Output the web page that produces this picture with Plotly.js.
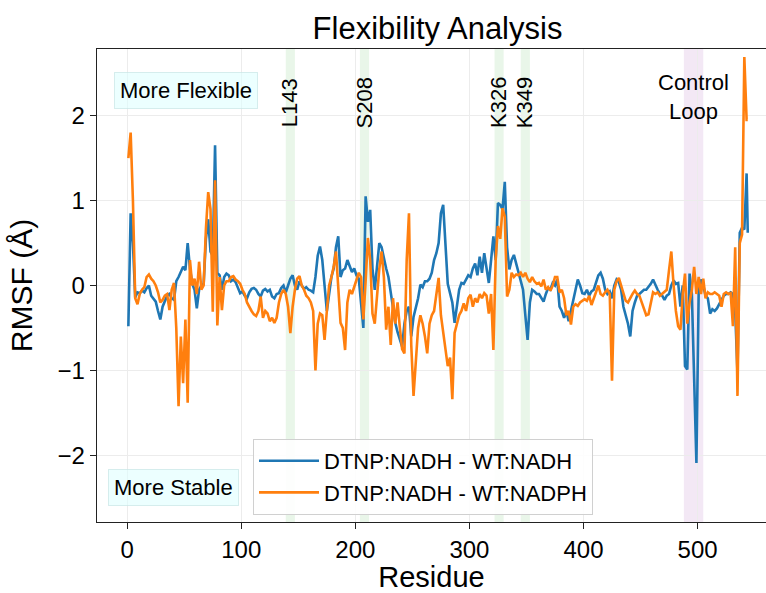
<!DOCTYPE html>
<html>
<head>
<meta charset="utf-8">
<script src="https://cdn.plot.ly/plotly-3.0.1.min.js"></script>
<style>
html,body{margin:0;padding:0;background:#fff;overflow:hidden;}
#chart{width:766px;height:593px;}
</style>
</head>
<body>
<div id="chart"></div>
<script>
// Residue numbers (x)
const residue = [
1,3,5,7,9,11,13,15,17,19,
21,23,25,27,29,31,33,35,37,39,
41,43,45,47,49,51,53,55,57,59,
61,63,65,67,69,71,73,75,77,79,
81,83,85,87,89,91,93,95,97,99,
101,103,105,107,109,111,113,115,117,119,
121,123,125,127,129,131,133,135,137,139,
141,143,145,147,149,151,153,155,157,159,
161,163,165,167,169,171,173,175,177,179,
181,183,185,187,189,191,193,195,197,199,
201,203,205,207,209,211,213,215,217,219,
221,223,225,227,229,231,233,235,237,239,
241,243,245,247,249,251,253,255,257,259,
261,263,265,267,269,271,273,275,277,279,
281,283,285,287,289,291,293,295,297,299,
301,303,305,307,309,311,313,315,317,319,
321,323,325,327,329,331,333,335,337,339,
341,343,345,347,349,351,353,355,357,359,
361,363,365,367,369,371,373,375,377,379,
381,383,385,387,389,391,393,395,397,399,
401,403,405,407,409,411,413,415,417,419,
421,423,425,427,429,431,433,435,437,439,
441,443,445,447,449,451,453,455,457,459,
461,463,465,467,469,471,473,475,477,479,
481,483,485,487,489,491,493,495,497,499,
501,503,505,507,509,511,513,515,517,519,
521,523,525,527,529,531,533,535,537,539,
541,543,544
];

// DTNP:NADH - WT:NADH (RMSF difference, Å)
const diffNADH = [
-0.48,0.85,0.5,-0.14,-0.08,-0.09,-0.06,-0.08,-0.03,0.0,
-0.12,-0.16,-0.19,-0.3,-0.4,-0.25,-0.18,-0.12,-0.1,-0.15,
-0.17,0.05,0.1,0.17,0.22,0.18,0.5,0.2,0.02,-0.05,
-0.27,-0.05,0.0,0.02,0.55,0.78,0.4,0.35,1.65,0.15,
0.12,-0.05,0.1,0.14,0.12,0.05,0.07,0.04,-0.02,-0.09,
-0.07,-0.12,-0.15,-0.08,-0.04,-0.03,-0.05,-0.1,-0.13,-0.06,
-0.04,-0.07,-0.05,-0.13,-0.15,-0.1,-0.09,-0.03,0.0,-0.08,
0.0,0.08,0.12,0.0,-0.05,0.05,0.0,-0.04,-0.02,-0.05,
-0.06,-0.08,0.1,0.35,0.46,0.3,0.0,-0.3,-0.1,0.1,
0.2,0.45,0.58,0.1,0.18,0.2,0.3,0.22,0.16,0.2,
0.12,0.08,-0.2,-0.5,1.05,0.75,0.89,0.2,-0.05,0.25,
0.5,0.45,0.3,0.2,0.1,-0.1,-0.25,-0.44,-0.55,-0.64,
-0.72,-0.45,-0.3,-0.25,-0.6,-0.37,-0.25,-0.15,0.01,-0.02,
0.05,0.05,0.08,0.15,0.3,0.38,0.5,0.85,0.95,0.4,
0.02,-0.09,-0.2,-0.44,-0.25,-0.05,0.03,0.02,0.07,0.12,
0.1,0.2,0.26,0.12,0.34,0.15,0.38,0.2,0.03,0.3,
0.58,0.3,0.97,0.95,0.9,1.22,0.45,0.19,0.3,0.36,
0.25,0.15,0.06,-0.05,-0.35,-0.64,-0.2,-0.05,-0.07,-0.1,
-0.1,-0.15,-0.19,-0.1,-0.03,-0.05,0.03,0.0,0.07,-0.25,
-0.3,-0.38,-0.3,-0.42,-0.3,-0.2,-0.05,0.07,0.0,-0.09,
-0.1,-0.05,-0.12,-0.07,-0.05,0.05,0.12,0.15,0.08,-0.05,
-0.1,-0.07,-0.15,0.0,0.07,0.04,-0.05,-0.25,-0.35,-0.45,
-0.6,-0.3,-0.2,-0.12,-0.1,-0.08,-0.05,-0.05,-0.02,0.02,
0.07,0.0,-0.05,-0.1,-0.12,-0.17,-0.12,-0.1,0.0,0.06,
0.02,0.03,-0.25,0.0,-0.95,-0.99,0.14,-0.1,-1.0,-2.09,
-0.05,0.07,0.0,-0.12,-0.15,-0.33,-0.28,-0.3,-0.27,-0.22,
-0.18,-0.12,-0.1,-0.1,-0.08,-0.1,-0.3,-1.03,0.62,0.68,
0.66,1.32,0.62
];

// DTNP:NADH - WT:NADPH (RMSF difference, Å)
const diffNADPH = [
1.5,1.8,1.0,-0.15,-0.22,-0.1,-0.05,-0.02,0.1,0.13,
0.08,0.05,0.0,-0.08,-0.2,-0.17,-0.12,-0.1,-0.29,-0.05,
0.03,-0.5,-1.42,-0.6,-1.15,-0.4,-1.38,0.3,0.0,0.08,
-0.1,0.28,-0.05,0.0,0.67,1.1,0.9,-0.31,1.24,-0.47,
0.1,-0.29,0.0,0.05,0.05,0.1,0.11,0.07,0.05,0.02,
-0.05,-0.1,-0.2,-0.26,-0.3,-0.34,-0.36,-0.3,-0.13,-0.38,
-0.3,-0.33,-0.42,-0.38,-0.44,-0.38,-0.2,-0.1,-0.05,-0.1,
-0.25,-0.56,-0.25,-0.05,0.08,0.11,0.0,-0.05,-0.12,-0.15,
-0.2,-0.3,-1.0,-0.45,-0.33,-0.35,-0.64,-0.3,0.0,0.1,
0.22,0.4,-0.05,-0.44,-0.5,-0.76,-0.2,-0.05,-0.1,-0.02,
0.08,0.15,0.1,-0.4,0.05,0.56,0.3,-0.33,-0.45,-0.1,
0.2,0.4,0.1,-0.52,-0.25,-0.7,-0.15,-0.45,-0.2,-0.5,
-0.75,-0.8,0.3,0.85,-0.7,-1.3,-0.85,-0.5,-0.35,-0.45,
-0.6,-0.8,-0.45,-0.35,-0.3,-0.1,0.09,-0.35,-0.55,-0.72,
-0.95,-0.85,-1.34,-0.56,-0.45,-0.35,-0.3,-0.21,-0.3,-0.15,
-0.11,-0.25,-0.15,-0.2,-0.1,-0.15,-0.09,-0.12,-0.33,-0.1,
-0.76,0.3,0.7,0.55,0.91,0.81,-0.13,-0.05,0.15,0.1,
0.13,0.12,0.15,0.1,0.15,0.08,0.04,0.1,0.05,0.02,
0.03,-0.01,0.07,-0.05,-0.02,-0.06,0.0,0.1,0.1,-0.08,
-0.05,-0.15,-0.35,-0.3,-0.46,-0.25,-0.22,-0.24,-0.2,-0.18,
-0.16,-0.18,-0.12,-0.23,-0.15,-0.07,0.0,-0.1,-0.12,-0.08,
-0.05,-0.1,-1.12,-0.05,0.05,0.09,0.0,-0.1,-0.18,-0.2,
-0.14,-0.1,-0.06,-0.1,-0.12,-0.2,-0.26,-0.35,-0.34,-0.2,
-0.08,-0.1,-0.08,-0.12,-0.1,-0.08,-0.05,0.18,0.4,0.0,
-0.3,-0.48,-0.52,-0.1,0.14,-0.45,-0.2,-0.05,0.22,-0.1,
0.1,-0.1,0.08,-0.15,-0.08,-0.1,-0.1,-0.08,-0.1,-0.12,
-0.25,-0.1,-0.08,-0.1,-0.09,-0.48,0.45,-1.3,0.5,0.6,
2.69,1.95,1.95
];

// Highlighted residues
const siteLabels = ["L143", "S208", "K326", "K349"];
const siteResidues = [143, 208, 326, 349];
const loopRange = [488, 505];
const loopLabel = "Control<br>Loop";
const seriesNames = ["DTNP:NADH - WT:NADH", "DTNP:NADH - WT:NADPH"];
const xTicks = [0, 100, 200, 300, 400, 500];
const yTicks = [-2, -1, 0, 1, 2];

const FONT = "Liberation Sans, Arial, Helvetica, sans-serif";

const traces = [
  {x: residue, y: diffNADH, type: "scatter", mode: "lines", name: seriesNames[0],
   line: {color: "#1f77b4", width: 2.6}},
  {x: residue, y: diffNADPH, type: "scatter", mode: "lines", name: seriesNames[1],
   line: {color: "#ff7f0e", width: 2.6}}
];

const shapes = siteResidues.map(r => ({
  type: "rect", xref: "x", yref: "paper", x0: r - 4, x1: r + 4, y0: 0, y1: 1,
  fillcolor: "rgba(120,200,120,0.16)", line: {width: 0}, layer: "below"
}));
shapes.push({
  type: "rect", xref: "x", yref: "paper", x0: loopRange[0], x1: loopRange[1], y0: 0, y1: 1,
  fillcolor: "rgba(200,150,210,0.22)", line: {width: 0}, layer: "below"
});

const annotations = siteResidues.map((r, i) => ({
  x: r, xref: "x", y: 0.886, yref: "paper", text: siteLabels[i], textangle: -90,
  showarrow: false, xanchor: "center", yanchor: "middle",
  font: {family: FONT, size: 22, color: "#000"}
}));
annotations.push({
  x: (loopRange[0] + loopRange[1]) / 2, xref: "x", y: 0.898, yref: "paper", text: loopLabel,
  showarrow: false, xanchor: "center", yanchor: "middle",
  font: {family: FONT, size: 22, color: "#000"}
});
annotations.push({
  x: 0.1323, xref: "paper", y: 0.913, yref: "paper", text: "More Flexible",
  showarrow: false, xanchor: "center", yanchor: "middle",
  bgcolor: "rgba(224,255,255,0.6)", bordercolor: "rgba(200,230,230,0.7)", borderwidth: 1, borderpad: 5,
  font: {family: FONT, size: 22, color: "#000"}
});
annotations.push({
  x: 0.1143, xref: "paper", y: 0.0729, yref: "paper", text: "More Stable",
  showarrow: false, xanchor: "center", yanchor: "middle",
  bgcolor: "rgba(224,255,255,0.6)", bordercolor: "rgba(200,230,230,0.7)", borderwidth: 1, borderpad: 5,
  font: {family: FONT, size: 22, color: "#000"}
});

const layout = {
  width: 766, height: 593,
  margin: {l: 97, r: 0, t: 49, b: 71, pad: 0},
  paper_bgcolor: "#fff", plot_bgcolor: "#fff",
  font: {family: FONT, color: "#000"},
  title: {text: "Flexibility Analysis", font: {family: FONT, size: 31, color: "#000"},
          xref: "container", x: 437.5 / 766, xanchor: "center",
          yref: "container", y: 1 - 28 / 593, yanchor: "middle"},
  xaxis: {
    range: [-26.5, 560], tickvals: xTicks, ticktext: xTicks.map(String),
    ticks: "outside", ticklen: 6, tickwidth: 1.2, tickcolor: "#222",
    showline: true, linecolor: "#222", linewidth: 1.3, mirror: true,
    showgrid: true, gridcolor: "#ececec", gridwidth: 1, zeroline: false,
    tickfont: {family: FONT, size: 24, color: "#000"},
    title: {text: "Residue", font: {family: FONT, size: 29, color: "#000"}, standoff: 5}
  },
  yaxis: {
    range: [-2.785, 2.785], tickvals: yTicks,
    ticks: "outside", ticklen: 6, tickwidth: 1.2, tickcolor: "#222",
    showline: true, linecolor: "#222", linewidth: 1.3, mirror: false,
    showgrid: true, gridcolor: "#ececec", gridwidth: 1, zeroline: false,
    tickfont: {family: FONT, size: 24, color: "#000"},
    title: {text: "RMSF (Å)", font: {family: FONT, size: 30, color: "#000"}, standoff: 16}
  },
  legend: {
    x: 0.2332, y: 0.1755, xanchor: "left", yanchor: "top",
    bgcolor: "rgba(255,255,255,0.9)", bordercolor: "#d0d0d0", borderwidth: 1,
    font: {family: FONT, size: 22, color: "#000"}, tracegroupgap: 0, itemwidth: 60
  },
  shapes: shapes,
  annotations: annotations,
  showlegend: true
};

Plotly.newPlot("chart", traces, layout, {staticPlot: true, displayModeBar: false});
</script>
</body>
</html>
